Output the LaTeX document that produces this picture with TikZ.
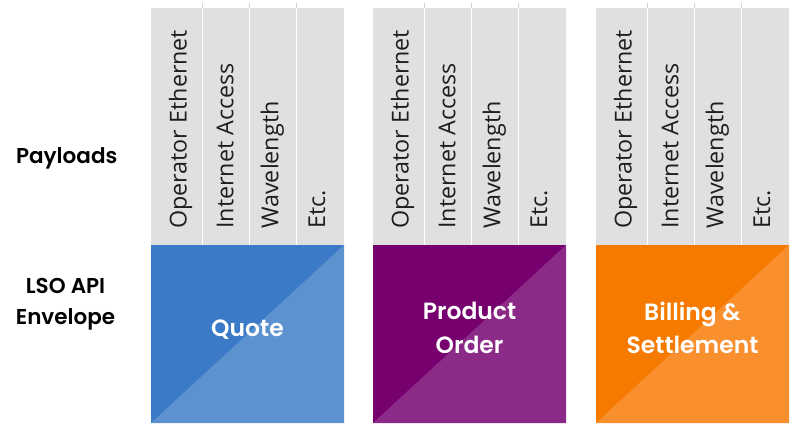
\documentclass[tikz,border=0pt]{standalone}
\usepackage{fontspec}
\setmainfont{Open Sans}
\newfontfamily\lblfont{Poppins}[BoldFont={Poppins SemiBold}]
\definecolor{paygrey}{HTML}{E0E0E0}
\definecolor{qdark}{HTML}{3A7AC6}
\definecolor{qlight}{HTML}{5D92D1}
\definecolor{pdark}{HTML}{76006E}
\definecolor{plight}{HTML}{8C2A87}
\definecolor{bdark}{HTML}{F77A00}
\definecolor{blight}{HTML}{F98F2D}
\definecolor{txtgrey}{HTML}{1E1E1E}
\tikzset{
  plabel/.style={rotate=90, anchor=base west, inner sep=0pt, text=txtgrey, font=\fontsize{23.3}{27}\selectfont},
  boxlabel/.style={align=center, inner sep=0pt, text=white, font=\lblfont\bfseries\fontsize{23.5}{33.4}\selectfont},
  sidelabel/.style={align=center, inner sep=0pt, text=black, font=\lblfont\bfseries\fontsize{21.5}{30.5}\selectfont},
  sepline/.style={white, line width=1pt},
  septick/.style={gray!35, line width=1pt}
}
\begin{document}
\begin{tikzpicture}[x=1pt,y=-1pt]
\useasboundingbox[fill=white] (0,0) rectangle (795,426);
\foreach \gx/\dk/\lt/\nm/\txt/\ty in {151/qdark/qlight/quote/Quote/330, 373/pdark/plight/order/{Product\\Order}/328, 596/bdark/blight/bill/{Billing \&\\Settlement}/328}{
  \fill[paygrey] (\gx,8) rectangle ++(193,237);
  \foreach \o in {51.5,98.5,145}{
    \draw[septick] (\gx+\o,3) -- (\gx+\o,8);
    \draw[sepline] (\gx+\o,8) -- (\gx+\o,245);
  }
  \node[plabel] (\nm-a) at (\gx+35.5,229) {Operator Ethernet};
  \node[plabel] (\nm-b) at (\gx+82.3,229) {Internet Access};
  \node[plabel] (\nm-c) at (\gx+127.3,229) {Wavelength};
  \node[plabel] (\nm-d) at (\gx+174,229) {Etc.};
  \fill[\dk] (\gx,245) rectangle ++(193,178);
  \fill[\lt] (\gx,423) -- (\gx+193,423) -- (\gx+193,245) -- cycle;
  \node[boxlabel] (\nm) at (\gx+96.5,\ty) {\txt};
}
\node[sidelabel, anchor=base] (payloads) at (66.7,163.3) {Payloads};
\node[sidelabel] (envelope) at (65.5,304) {LSO API\\Envelope};
\end{tikzpicture}
\end{document}
